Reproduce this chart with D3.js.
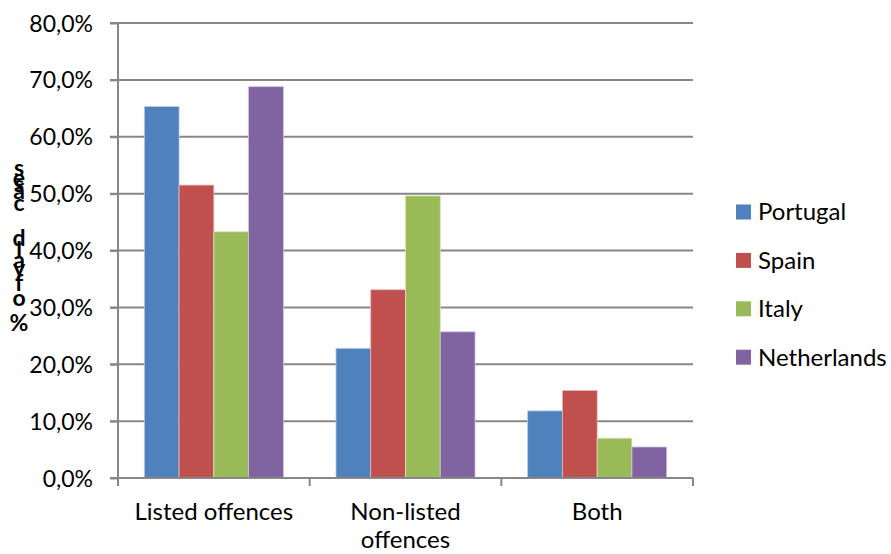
<!DOCTYPE html>
<html><head><meta charset="utf-8">
<script src="https://cdn.jsdelivr.net/npm/d3@7"></script>
<style>body{margin:0;background:#fff;} text{font-family:Lato,"Open Sans",sans-serif;fill:#000;}</style>
</head><body>
<svg id="c" width="891" height="554"></svg>
<script>
const categories = ["Listed offences", "Non-listed offences", "Both"];
const categoryLines = [["Listed offences"], ["Non-listed", "offences"], ["Both"]];
const series = ["Portugal", "Spain", "Italy", "Netherlands"];
const portugal = [65.3, 22.8, 11.8];
const spain = [51.5, 33.1, 15.4];
const italy = [43.3, 49.6, 7.0];
const netherlands = [68.8, 25.7, 5.45];
const values = [portugal, spain, italy, netherlands];
const colors = ["#4F81BD", "#C0504D", "#9BBB59", "#8064A2"];
const borders = ["#b9cde5", "#e6b9b8", "#d7e4bd", "#ccc1da"];
const yTicks = [0, 10, 20, 30, 40, 50, 60, 70, 80];
const yLabelChars = ["s","e","s","a","c","d","l","a","y","f","o","%"];

(function () {
const svg = d3.select("#c");
const pL = 118, pR = 693, pT = 23, pB = 478;
const x = d3.scaleBand().domain(categories).range([pL, pR]).paddingInner(0).paddingOuter(0);
const x1 = d3.scaleBand().domain(series).range([0, x.bandwidth()]).paddingInner(0).paddingOuter(0.757);
const y = d3.scaleLinear().domain([0, 80]).range([pB, pT]);
const grid = "#878787";

svg.append("g").selectAll("line").data(yTicks.filter(d => d > 0)).join("line")
  .attr("x1", pL - 8).attr("x2", pR).attr("y1", d => y(d)).attr("y2", d => y(d))
  .attr("stroke", grid).attr("stroke-width", 2);

const g = svg.append("g");
categories.forEach((c, ci) => {
  series.forEach((s, si) => {
    const v = values[si][ci];
    g.append("rect").attr("x", x(c) + x1(s)).attr("width", x1.bandwidth())
      .attr("y", y(v)).attr("height", y(0) - y(v))
      .attr("fill", colors[si]).attr("stroke", borders[si]).attr("stroke-width", 0.8);
  });
});

const yAxis = d3.axisLeft(y).tickValues(yTicks).tickSize(8).tickPadding(17)
  .tickFormat(d => d3.format(".1f")(d).replace(".", ",") + "%");
const ya = svg.append("g").attr("transform", `translate(${pL},0)`).call(yAxis);
ya.select(".domain").attr("stroke", grid).attr("stroke-width", 2).attr("d", `M0,${pT}V${pB + 8}`);
ya.selectAll(".tick line").attr("stroke", grid).attr("stroke-width", 2);
ya.selectAll(".tick text").attr("font-size", 23).attr("font-family", "Lato").attr("fill", "#000").attr("dy", "0.35em");

svg.append("line").attr("x1", pL - 8).attr("x2", pR).attr("y1", pB).attr("y2", pB)
  .attr("stroke", grid).attr("stroke-width", 2);
const bounds = categories.map(c => x(c) + x.bandwidth());
svg.append("g").selectAll("line").data(bounds).join("line")
  .attr("x1", d => d).attr("x2", d => d).attr("y1", pB).attr("y2", pB + 8)
  .attr("stroke", grid).attr("stroke-width", 2);

const xl = svg.append("g");
categories.forEach((c, ci) => {
  const t = xl.append("text").attr("x", x(c) + x.bandwidth() / 2).attr("y", 520)
    .attr("text-anchor", "middle").attr("font-size", 24);
  categoryLines[ci].forEach((ln, li) => {
    t.append("tspan").attr("x", x(c) + x.bandwidth() / 2).attr("dy", li ? 28 : 0).text(ln);
  });
});

const leg = svg.append("g");
series.forEach((s, i) => {
  const cy = 212 + i * 48.4;
  leg.append("rect").attr("x", 736).attr("y", cy - 7.5).attr("width", 15).attr("height", 15).attr("fill", colors[i]);
  leg.append("text").attr("x", 758).attr("y", cy).attr("dy", "0.35em").attr("font-size", 24).text(s);
});

const yOffsets = [168, 178, 184, 191, 203, 238, 250, 260, 268, 283, 298, 323];
const yl = svg.append("g");
yLabelChars.forEach((ch, i) => {
  yl.append("text").attr("x", 19).attr("y", yOffsets[i]).attr("dy", "0.35em")
    .attr("text-anchor", "middle").attr("font-size", 23).attr("font-weight", "bold").text(ch);
});
})();
</script>
</body></html>
